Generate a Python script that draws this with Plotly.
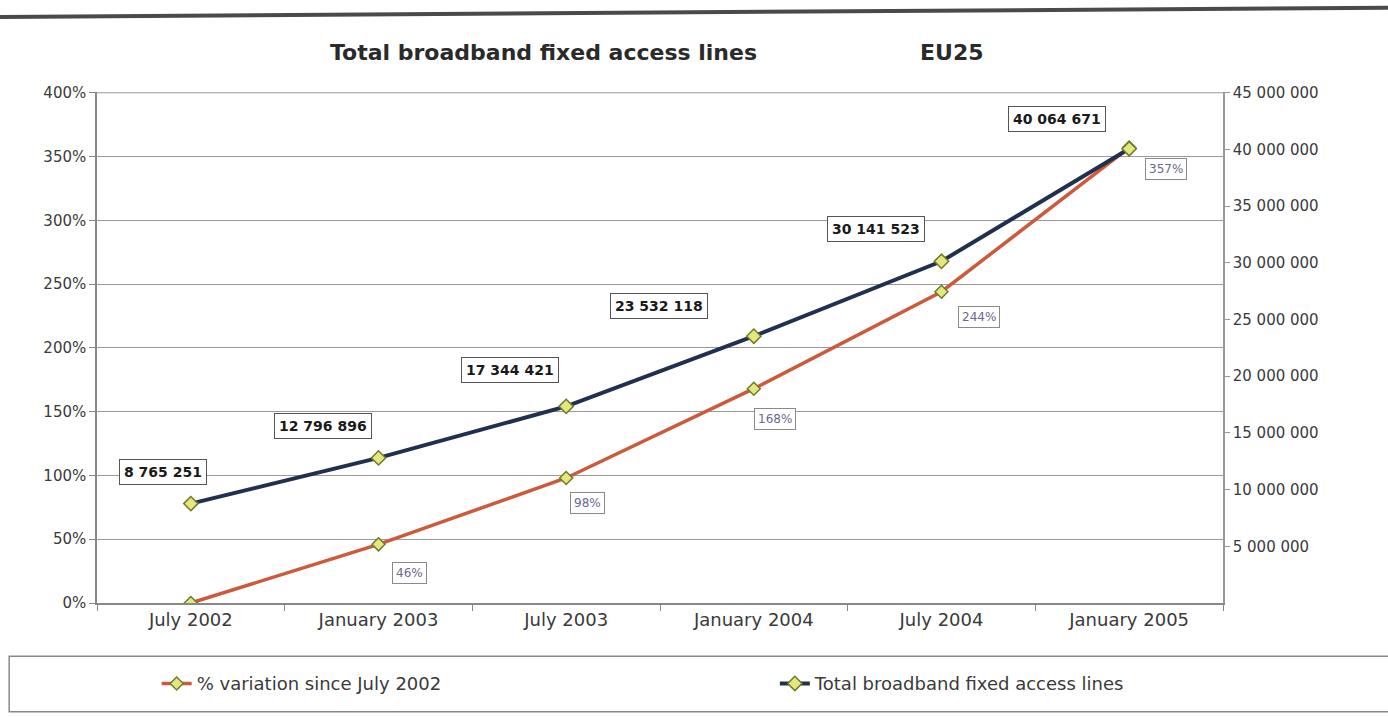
import plotly.graph_objects as go

# Broadband fixed access lines, EU25
periods = ["July 2002", "January 2003", "July 2003", "January 2004", "July 2004", "January 2005"]
total_lines = [8765251, 12796896, 17344421, 23532118, 30141523, 40064671]
total_labels = ["8 765 251", "12 796 896", "17 344 421", "23 532 118", "30 141 523", "40 064 671"]
pct_variation = [0.0, 0.46, 0.98, 1.68, 2.44, 3.57]
pct_labels = ["", "46%", "98%", "168%", "244%", "357%"]

left_ticks = [0, 0.5, 1.0, 1.5, 2.0, 2.5, 3.0, 3.5, 4.0]
left_ticktext = ["0%", "50%", "100%", "150%", "200%", "250%", "300%", "350%", "400%"]
right_ticks = [5e6, 10e6, 15e6, 20e6, 25e6, 30e6, 35e6, 40e6, 45e6]
right_ticktext = ["5 000 000", "10 000 000", "15 000 000", "20 000 000", "25 000 000",
                  "30 000 000", "35 000 000", "40 000 000", "45 000 000"]

NAVY = "#22304f"
ORANGE = "#cc5a3c"
MARKER_FILL = "#e4e67e"
MARKER_EDGE = "#6f7a2a"
FONT = "DejaVu Sans, Verdana, sans-serif"
TEXT = "#3a3a3a"
GRID = "#9a9a9a"

fig = go.Figure()

fig.add_trace(go.Scatter(
    x=periods, y=pct_variation, name="% variation since July 2002",
    mode="lines+markers", yaxis="y", legend="legend",
    line=dict(color=ORANGE, width=3.5),
    marker=dict(symbol="diamond", size=10, color=MARKER_FILL,
                line=dict(color=MARKER_EDGE, width=1.5)),
))
fig.add_trace(go.Scatter(
    x=periods, y=total_lines, name="Total broadband fixed access lines",
    mode="lines+markers", yaxis="y2", legend="legend2",
    line=dict(color=NAVY, width=4),
    marker=dict(symbol="diamond", size=11, color=MARKER_FILL,
                line=dict(color=MARKER_EDGE, width=1.5)),
))

annotations = []
# value boxes for the line totals (above-left of each point)
tot_shift = [(-28, 32), (-56, 32), (-56, 36), (-95, 30), (-66, 32), (-72, 30)]
for p, v, t, (dx, dy) in zip(periods, total_lines, total_labels, tot_shift):
    annotations.append(dict(
        x=p, y=v, xref="x", yref="y2", text="<b>" + t + "</b>", showarrow=False,
        xshift=dx, yshift=dy, font=dict(family=FONT, size=14, color="#1a1a1a"),
        bgcolor="white", bordercolor="#555555", borderwidth=1, borderpad=4,
    ))
# percentage boxes (below-right of each point)
pct_shift = [(0, 0), (31, -29), (21, -25), (21, -30), (37, -25), (37, -21)]
for p, v, t, (dx, dy) in zip(periods, pct_variation, pct_labels, pct_shift):
    if not t:
        continue
    annotations.append(dict(
        x=p, y=v, xref="x", yref="y", text=t, showarrow=False,
        xshift=dx, yshift=dy, font=dict(family=FONT, size=12, color="#6a6890"),
        bgcolor="white", bordercolor="#8a8a8a", borderwidth=1, borderpad=3,
    ))

# title, in two parts
annotations.append(dict(
    x=0.205, y=1.078, xref="paper", yref="paper", xanchor="left", yanchor="middle",
    text="<b>Total broadband fixed access lines</b>",
    showarrow=False, font=dict(family=FONT, size=22, color="#2a2a2a"),
))
annotations.append(dict(
    x=0.729, y=1.078, xref="paper", yref="paper", xanchor="left", yanchor="middle",
    text="<b>EU25</b>",
    showarrow=False, font=dict(family=FONT, size=22, color="#2a2a2a"),
))

shapes = [
    # heavy rule across the top of the page
    dict(type="line", xref="paper", yref="paper",
         x0=-0.087, x1=1.155, y0=1.147, y1=1.165,
         line=dict(color="#4a4a4a", width=4)),
    # top gridline at the 400% level
    dict(type="line", xref="paper", yref="y", x0=0, x1=1, y0=4.0, y1=4.0,
         line=dict(color=GRID, width=1), layer="below"),
    # frame around the legend
    dict(type="rect", xref="paper", yref="paper",
         x0=-0.078, x1=1.152, y0=-0.213, y1=-0.104,
         line=dict(color="#8a8a8a", width=1.5)),
]

legend_font = dict(family=FONT, size=18, color=TEXT)

fig.update_layout(
    width=1388, height=717,
    margin=dict(l=97, r=165, t=92, b=114),
    paper_bgcolor="white", plot_bgcolor="white",
    font=dict(family=FONT, size=15, color=TEXT),
    showlegend=True,
    legend=dict(orientation="h", x=0.053, xanchor="left", y=-0.158, yanchor="middle",
                font=legend_font, bgcolor="rgba(0,0,0,0)"),
    legend2=dict(orientation="h", x=0.602, xanchor="left", y=-0.158, yanchor="middle",
                 font=legend_font, bgcolor="rgba(0,0,0,0)"),
    xaxis=dict(
        type="category", range=[-0.5, 5.5],
        showgrid=False, showline=True, linecolor="#888888", linewidth=1.5,
        ticks="outside", ticklen=6, tickcolor="#888888", tickson="boundaries",
        tickfont=dict(family=FONT, size=18, color=TEXT),
    ),
    yaxis=dict(
        range=[0, 4.006], tickvals=left_ticks, ticktext=left_ticktext,
        showgrid=True, gridcolor=GRID, gridwidth=1,
        showline=True, linecolor="#888888", linewidth=1.5,
        ticks="outside", ticklen=6, tickcolor="#888888",
        tickfont=dict(family=FONT, size=15, color=TEXT),
        zeroline=False,
    ),
    yaxis2=dict(
        range=[0, 45.07e6], tickvals=right_ticks, ticktext=right_ticktext,
        overlaying="y", side="right", showgrid=False,
        showline=True, linecolor="#999999", linewidth=1.5,
        ticks="outside", ticklen=5, tickcolor="#999999",
        tickfont=dict(family=FONT, size=15, color=TEXT),
        zeroline=False,
    ),
    annotations=annotations,
    shapes=shapes,
)

fig.write_html("out.html")
